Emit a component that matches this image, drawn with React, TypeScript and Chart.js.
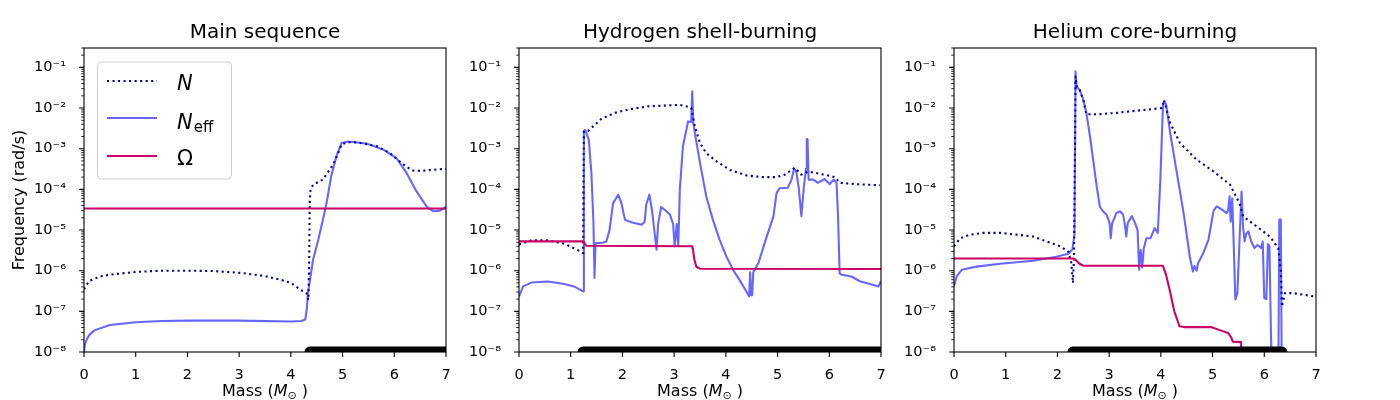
import React, { useEffect, useRef } from "react";
import { Chart, registerables } from "chart.js";

Chart.register(...registerables);

const FONT = "'DejaVu Sans', 'Liberation Sans', sans-serif";

// ---------- axis ticks ----------
const X_TICK_VALUES = [0, 1, 2, 3, 4, 5, 6, 7];
const X_TICK_LABELS = ["0", "1", "2", "3", "4", "5", "6", "7"];
const Y_TICK_VALUES = [1e-8, 1e-7, 1e-6, 1e-5, 1e-4, 1e-3, 1e-2, 1e-1];
const Y_TICK_LABELS = ["10⁻⁸", "10⁻⁷", "10⁻⁶", "10⁻⁵", "10⁻⁴", "10⁻³", "10⁻²", "10⁻¹"];
const Y_MIN = 1e-8;
const Y_MAX = 0.3;
const X_MIN = 0;
const X_MAX = 7;

const PANEL_TITLES = ["Main sequence", "Hydrogen shell-burning", "Helium core-burning"];
const Y_AXIS_TITLE = "Frequency (rad/s)";
const SERIES_NAMES = ["N", "N", "Ω"];

// ---------- Main sequence ----------
const msNx = [0, 0.1, 0.3, 0.5, 1.0, 1.5, 2.0, 2.5, 3.0, 3.5, 3.8, 4.0, 4.2, 4.3, 4.34, 4.355, 4.365, 4.38, 4.43, 4.62, 4.82, 4.9, 4.98, 5.1, 5.27, 5.65, 5.91, 6.1, 6.25, 6.36, 6.5, 6.7, 7.0];
const msNy = [3.5e-7, 5.6e-7, 7.1e-7, 8.0e-7, 9.3e-7, 1.0e-6, 1.0e-6, 9.8e-7, 8.9e-7, 7.4e-7, 6.0e-7, 5.0e-7, 3.3e-7, 2.8e-7, 1.9e-7, 2.0e-6, 5.0e-5, 1.0e-4, 1.3e-4, 1.74e-4, 4.1e-4, 7.0e-4, 1.26e-3, 1.45e-3, 1.43e-3, 1.17e-3, 7.9e-4, 4.9e-4, 3.5e-4, 2.9e-4, 2.85e-4, 3.0e-4, 3.2e-4];
const msEx = [0, 0.02, 0.05, 0.1, 0.2, 0.5, 1.0, 1.5, 2.0, 3.0, 4.0, 4.2, 4.28, 4.31, 4.33, 4.43, 4.53, 4.62, 4.69, 4.78, 4.88, 4.98, 5.1, 5.46, 5.79, 6.04, 6.24, 6.43, 6.63, 6.75, 6.88, 7.0];
const msEy = [1.0e-8, 1.6e-8, 2.0e-8, 2.6e-8, 3.4e-8, 4.6e-8, 5.4e-8, 5.8e-8, 5.9e-8, 5.9e-8, 5.6e-8, 5.8e-8, 6.3e-8, 1.2e-7, 2.8e-7, 1.86e-6, 5.75e-6, 1.78e-5, 4.6e-5, 2.1e-4, 6.5e-4, 1.38e-3, 1.5e-3, 1.35e-3, 9.5e-4, 5.9e-4, 2.5e-4, 8.9e-5, 3.7e-5, 2.9e-5, 3.0e-5, 3.7e-5];
const msOx = [0, 7];
const msOy = [3.4e-5, 3.4e-5];
const msBar = [4.37, 7];

// ---------- Hydrogen shell-burning ----------
const hsNx = [0, 0.24, 0.56, 0.88, 1.14, 1.24, 1.255, 1.34, 1.59, 1.85, 2.17, 2.5, 2.82, 3.11, 3.33, 3.4, 3.5, 3.62, 3.82, 4.08, 4.4, 4.72, 4.98, 5.14, 5.33, 5.46, 5.59, 5.98, 6.11, 6.2, 6.49, 6.98];
const hsNy = [4.4e-6, 5.6e-6, 5.6e-6, 4.6e-6, 3.2e-6, 2.7e-6, 2.7e-3, 2.75e-3, 5.4e-3, 7.6e-3, 9.5e-3, 1.1e-2, 1.15e-2, 1.2e-2, 1.02e-2, 3.5e-3, 1.38e-3, 7.8e-4, 4.9e-4, 3.0e-4, 2.2e-4, 2.0e-4, 2.0e-4, 2.3e-4, 3.4e-4, 2.3e-4, 2.75e-4, 2.2e-4, 2.0e-4, 1.45e-4, 1.35e-4, 1.26e-4];
const hsEx = [0, 0.08, 0.24, 0.56, 0.88, 1.08, 1.24, 1.255, 1.28, 1.35, 1.4, 1.44, 1.46, 1.48, 1.59, 1.69, 1.75, 1.82, 1.92, 1.98, 2.05, 2.17, 2.37, 2.43, 2.46, 2.52, 2.57, 2.66, 2.69, 2.75, 2.85, 2.92, 2.98, 3.01, 3.05, 3.08, 3.11, 3.17, 3.27, 3.33, 3.35, 3.37, 3.4, 3.5, 3.62, 3.75, 3.88, 4.01, 4.14, 4.3, 4.45, 4.47, 4.49, 4.51, 4.53, 4.63, 4.79, 4.92, 4.98, 5.04, 5.2, 5.27, 5.32, 5.36, 5.41, 5.46, 5.51, 5.55, 5.565, 5.58, 5.6, 5.69, 5.78, 5.91, 5.98, 6.01, 6.08, 6.14, 6.17, 6.2, 6.24, 6.43, 6.59, 6.82, 6.95, 7.0];
const hsEy = [2.3e-7, 4.1e-7, 5.1e-7, 5.4e-7, 4.7e-7, 4.0e-7, 3.1e-7, 2.6e-3, 2.9e-3, 1.66e-3, 2.5e-4, 1.5e-5, 6.6e-7, 4.8e-6, 4.8e-6, 5.2e-6, 1.0e-5, 4.6e-5, 7.4e-5, 4.6e-5, 1.78e-5, 1.55e-5, 1.35e-5, 1.6e-5, 4.2e-5, 7.4e-5, 3.2e-5, 3.3e-6, 1.4e-5, 3.7e-5, 2.9e-5, 2.4e-5, 1.4e-5, 4.0e-6, 1.4e-5, 4.0e-6, 9.8e-5, 1.15e-3, 4.7e-3, 4.5e-3, 2.6e-2, 4.5e-3, 2.45e-3, 4.5e-4, 6.8e-5, 1.78e-5, 5.75e-6, 2.24e-6, 1.05e-6, 5.0e-7, 2.35e-7, 9.1e-7, 2.5e-7, 2.5e-7, 9.1e-7, 1.55e-6, 6.9e-6, 2.16e-5, 8.1e-5, 1.07e-4, 1.1e-4, 1.74e-4, 3.2e-4, 2.8e-4, 1.07e-4, 2.2e-5, 1.2e-4, 3.2e-4, 1.74e-3, 1.7e-3, 1.74e-4, 1.74e-4, 1.45e-4, 1.8e-4, 1.45e-4, 1.35e-4, 1.74e-4, 1.45e-4, 2.1e-5, 8.7e-7, 7.9e-7, 7.2e-7, 5.5e-7, 4.6e-7, 4.1e-7, 5.5e-7];
const hsOx = [0, 1.25, 1.3, 3.35, 3.37, 3.39, 3.43, 3.5, 7];
const hsOy = [5.25e-6, 5.25e-6, 4.1e-6, 4.0e-6, 3.0e-6, 1.9e-6, 1.25e-6, 1.12e-6, 1.1e-6];
const hsBar = [1.24, 7];

// ---------- Helium core-burning ----------
const hcNx = [0, 0.12, 0.31, 0.57, 0.89, 1.21, 1.53, 1.79, 2.05, 2.21, 2.27, 2.3, 2.32, 2.34, 2.35, 2.37, 2.43, 2.5, 2.56, 2.82, 3.14, 3.4, 3.73, 4.02, 4.06, 4.18, 4.37, 4.69, 5.02, 5.34, 5.42, 5.52, 5.59, 5.63, 5.85, 6.11, 6.27, 6.32, 6.34, 6.4, 6.56, 6.95, 7.0];
const hcNy = [4.0e-6, 6.3e-6, 7.7e-6, 8.5e-6, 8.5e-6, 7.7e-6, 6.9e-6, 5.25e-6, 4.0e-6, 2.95e-6, 1.55e-6, 5.0e-7, 2.0e-6, 1.0e-3, 6.0e-2, 3.4e-2, 2.8e-2, 1.6e-2, 7.0e-3, 7.1e-3, 7.6e-3, 8.3e-3, 9.1e-3, 1.0e-2, 1.6e-2, 4.3e-3, 1.38e-3, 5.4e-4, 2.75e-4, 1.3e-4, 8.1e-5, 4.6e-5, 2.16e-5, 2.0e-5, 1.23e-5, 6.9e-6, 3.6e-6, 1.0e-6, 1.3e-7, 2.8e-7, 2.8e-7, 2.35e-7, 2.3e-7];
const hcEx = [0, 0.05, 0.15, 0.44, 0.89, 1.53, 1.98, 2.21, 2.29, 2.33, 2.35, 2.37, 2.43, 2.5, 2.56, 2.63, 2.69, 2.76, 2.82, 2.88, 2.95, 3.01, 3.03, 3.06, 3.14, 3.21, 3.27, 3.31, 3.33, 3.36, 3.44, 3.5, 3.55, 3.58, 3.61, 3.64, 3.67, 3.72, 3.8, 3.88, 3.94, 3.99, 4.04, 4.06, 4.1, 4.18, 4.31, 4.44, 4.56, 4.62, 4.65, 4.69, 4.72, 4.82, 4.92, 5.02, 5.08, 5.18, 5.27, 5.3, 5.33, 5.35, 5.38, 5.41, 5.44, 5.48, 5.52, 5.56, 5.59, 5.62, 5.65, 5.69, 5.75, 5.81, 5.87, 5.94, 5.97, 6.0, 6.04, 6.07, 6.1, 6.13, 6.16, 6.27, 6.29, 6.32, 6.34, 7.0];
const hcEy = [4.1e-7, 7.2e-7, 1.05e-6, 1.26e-6, 1.48e-6, 1.76e-6, 2.2e-6, 2.6e-6, 3.3e-6, 8.0e-6, 8.0e-2, 3.4e-2, 2.8e-2, 1.6e-2, 7.6e-3, 2.0e-3, 5.4e-4, 1.17e-4, 3.8e-5, 2.9e-5, 2.4e-5, 1.48e-5, 6.3e-6, 1.48e-5, 2.6e-5, 2.9e-5, 2.4e-5, 1.2e-5, 6.9e-6, 1.5e-5, 2.2e-5, 1.5e-5, 1.0e-5, 1.05e-6, 3.2e-6, 1.2e-6, 3.5e-6, 6.3e-6, 6.3e-6, 1.12e-5, 8.5e-6, 1.7e-4, 1.1e-2, 1.4e-2, 1.26e-2, 2.45e-3, 2.5e-4, 2.6e-5, 2.2e-6, 9.5e-7, 1.3e-6, 1.0e-6, 1.55e-6, 2.7e-6, 5.75e-6, 3.0e-5, 3.8e-5, 3.2e-5, 2.6e-5, 3.0e-5, 6.8e-5, 1.6e-5, 6.0e-5, 4.0e-6, 1.95e-7, 2.8e-7, 5.0e-6, 8.9e-5, 1.2e-5, 5.25e-6, 8.0e-6, 9.3e-6, 5.2e-6, 3.6e-6, 4.3e-6, 3.6e-6, 5.2e-6, 2.1e-7, 2.0e-7, 4.5e-6, 4.0e-6, 2.4e-8, 1.0e-9, 1.0e-9, 1.8e-5, 1.8e-5, 1.0e-9, 1.0e-9];
const hcOx = [0, 2.3, 2.34, 2.42, 2.5, 4.04, 4.1, 4.17, 4.26, 4.36, 4.45, 4.97, 5.1, 5.3, 5.36, 5.39, 5.55, 5.57, 5.6, 7.0];
const hcOy = [2.0e-6, 2.0e-6, 1.9e-6, 1.5e-6, 1.32e-6, 1.32e-6, 8.0e-7, 3.4e-7, 1.0e-7, 4.3e-8, 4.1e-8, 4.1e-8, 3.6e-8, 2.95e-8, 2.3e-8, 1.8e-8, 1.75e-8, 5e-9, 1e-9, 1e-9];
const hcBar = [2.3, 6.34];

// ---------- styles ----------
const COLOR_N = "#00008b";
const COLOR_NEFF = "rgba(0,0,255,0.6)";
const COLOR_OMEGA = "#cc0066";
const LW = 2.08;

const CANVAS_W = 466;
const CANVAS_H = 400;

type PanelDef = {
  title: string;
  nx: number[]; ny: number[];
  ex: number[]; ey: number[];
  ox: number[]; oy: number[];
  bar: number[];
  left: number;
  legend: boolean;
  yTitle: boolean;
};

const PANELS: PanelDef[] = [
  { title: PANEL_TITLES[0], nx: msNx, ny: msNy, ex: msEx, ey: msEy, ox: msOx, oy: msOy, bar: msBar, left: 0, legend: true, yTitle: true },
  { title: PANEL_TITLES[1], nx: hsNx, ny: hsNy, ex: hsEx, ey: hsEy, ox: hsOx, oy: hsOy, bar: hsBar, left: 435, legend: false, yTitle: false },
  { title: PANEL_TITLES[2], nx: hcNx, ny: hcNy, ex: hcEx, ey: hcEy, ox: hcOx, oy: hcOy, bar: hcBar, left: 870, legend: false, yTitle: false },
];

function pts(xs: number[], ys: number[]) {
  return xs.map((x, i) => ({ x, y: ys[i] }));
}

function drawRich(ctx: CanvasRenderingContext2D, parts: { t: string; f: string; dy: number }[], cx: number, base: number) {
  let total = 0;
  const widths = parts.map((p) => {
    ctx.font = p.f;
    const w = ctx.measureText(p.t).width;
    total += w;
    return w;
  });
  let x = cx - total / 2;
  ctx.textAlign = "left";
  ctx.textBaseline = "alphabetic";
  parts.forEach((p, i) => {
    ctx.font = p.f;
    ctx.fillText(p.t, x, base + p.dy);
    x += widths[i];
  });
}

const framePlugin = {
  id: "mplFrame",
  afterDraw(chart: any, _args: any, opts: any) {
    const { ctx, chartArea: a, scales } = chart;
    ctx.save();
    ctx.fillStyle = "#000";
    ctx.strokeStyle = "#000";
    // ticks
    ctx.lineWidth = 1.1;
    ctx.beginPath();
    X_TICK_VALUES.forEach((v) => {
      const px = scales.x.getPixelForValue(v);
      ctx.moveTo(px, a.bottom);
      ctx.lineTo(px, a.bottom + 4.9);
    });
    Y_TICK_VALUES.forEach((v) => {
      const py = scales.y.getPixelForValue(v);
      ctx.moveTo(a.left, py);
      ctx.lineTo(a.left - 4.9, py);
    });
    ctx.stroke();
    ctx.lineWidth = 0.85;
    ctx.beginPath();
    Y_TICK_VALUES.forEach((v) => {
      for (let m = 2; m <= 9; m++) {
        const val = v * m;
        if (val > Y_MAX * 1.0001) continue;
        const py = scales.y.getPixelForValue(val);
        ctx.moveTo(a.left, py);
        ctx.lineTo(a.left - 2.8, py);
      }
    });
    ctx.stroke();
    // frame
    ctx.lineWidth = 1.1;
    ctx.strokeRect(a.left, a.top, a.right - a.left, a.bottom - a.top);

    // x label
    drawRich(
      ctx,
      [
        { t: "Mass (", f: `16px ${FONT}`, dy: 0 },
        { t: "M", f: `italic 16px ${FONT}`, dy: 0 },
        { t: "⊙", f: `11px ${FONT}`, dy: 3 },
        { t: " )", f: `16px ${FONT}`, dy: 0 },
      ],
      (a.left + a.right) / 2,
      396
    );

    // legend
    if (opts && opts.legend) {
      const bx = 97.5, by = 62, bw = 134, bh = 117, r = 4;
      ctx.beginPath();
      ctx.moveTo(bx + r, by);
      ctx.lineTo(bx + bw - r, by);
      ctx.arcTo(bx + bw, by, bx + bw, by + r, r);
      ctx.lineTo(bx + bw, by + bh - r);
      ctx.arcTo(bx + bw, by + bh, bx + bw - r, by + bh, r);
      ctx.lineTo(bx + r, by + bh);
      ctx.arcTo(bx, by + bh, bx, by + bh - r, r);
      ctx.lineTo(bx, by + r);
      ctx.arcTo(bx, by, bx + r, by, r);
      ctx.closePath();
      ctx.fillStyle = "rgba(255,255,255,0.8)";
      ctx.fill();
      ctx.strokeStyle = "#cccccc";
      ctx.lineWidth = 1;
      ctx.stroke();

      const rows = [81, 118, 156];
      const colors = [COLOR_N, COLOR_NEFF, COLOR_OMEGA];
      rows.forEach((ry, i) => {
        ctx.beginPath();
        ctx.strokeStyle = colors[i];
        ctx.lineWidth = LW;
        ctx.setLineDash(i === 0 ? [2.08, 3.44] : []);
        ctx.moveTo(107, ry);
        ctx.lineTo(157, ry);
        ctx.stroke();
      });
      ctx.setLineDash([]);
      ctx.fillStyle = "#000";
      ctx.textAlign = "left";
      ctx.textBaseline = "alphabetic";
      ctx.font = `italic 21px ${FONT}`;
      ctx.fillText(SERIES_NAMES[0], 177, 89.5);
      ctx.fillText(SERIES_NAMES[1], 177, 128.5);
      const wN = ctx.measureText(SERIES_NAMES[1]).width;
      ctx.font = `15px ${FONT}`;
      ctx.fillText("eff", 177 + wN + 1, 131.5);
      ctx.font = `21px ${FONT}`;
      ctx.fillText(SERIES_NAMES[2], 177, 164.5);
    }
    ctx.restore();
  },
};

function PanelChart({ p }: { p: PanelDef }) {
  const ref = useRef<HTMLCanvasElement | null>(null);
  useEffect(() => {
    if (!ref.current) return;
    const chart = new Chart(ref.current, {
      type: "line",
      data: {
        datasets: [
          {
            label: "bar",
            data: pts(p.bar, [Y_MIN, Y_MIN]),
            borderColor: "#000",
            borderWidth: 11,
            borderCapStyle: "round",
            pointRadius: 0,
            clip: 0,
            order: 0,
          },
          {
            label: "Omega",
            data: pts(p.ox, p.oy),
            borderColor: COLOR_OMEGA,
            borderWidth: LW,
            borderJoinStyle: "round",
            pointRadius: 0,
            clip: 0,
            order: 1,
          },
          {
            label: "Neff",
            data: pts(p.ex, p.ey),
            borderColor: COLOR_NEFF,
            borderWidth: LW,
            borderJoinStyle: "round",
            pointRadius: 0,
            clip: 0,
            order: 2,
          },
          {
            label: "N",
            data: pts(p.nx, p.ny),
            borderColor: COLOR_N,
            borderWidth: LW,
            borderDash: [2.08, 3.44],
            borderJoinStyle: "round",
            pointRadius: 0,
            clip: 0,
            order: 3,
          },
        ] as any,
      },
      options: {
        animation: false,
        responsive: false,
        devicePixelRatio: 1,
        events: [],
        layout: { padding: { left: 0, right: 20, top: 0, bottom: 0 } },
        elements: { point: { radius: 0 }, line: { tension: 0 } },
        plugins: {
          legend: { display: false },
          tooltip: { enabled: false },
          title: {
            display: true,
            text: p.title,
            fullSize: false,
            color: "#000",
            font: { family: FONT, size: 20, weight: "normal", lineHeight: 1.2 },
            padding: { top: 21, bottom: 3 },
          },
          mplFrame: { legend: p.legend },
        } as any,
        scales: {
          x: {
            type: "linear",
            min: X_MIN,
            max: X_MAX,
            grid: { display: false },
            border: { display: false },
            ticks: {
              stepSize: 1,
              padding: 7,
              autoSkip: false,
              maxRotation: 0,
              color: "#000",
              font: { family: FONT, size: 14.5 },
              callback: (v: any) => {
                const i = X_TICK_VALUES.indexOf(Number(v));
                return i >= 0 ? X_TICK_LABELS[i] : "";
              },
            },
            afterFit: (s: any) => {
              s.height = 48;
            },
          },
          y: {
            type: "logarithmic",
            min: Y_MIN,
            max: Y_MAX,
            grid: { display: false },
            border: { display: false },
            ticks: {
              padding: 10,
              autoSkip: false,
              color: "#000",
              font: { family: FONT, size: 14.5 },
              callback: (v: any) => {
                const lv = Math.log10(Number(v));
                const i = Y_TICK_VALUES.findIndex((t) => Math.abs(Math.log10(t) - lv) < 1e-6);
                return i >= 0 ? Y_TICK_LABELS[i] : "";
              },
            },
            title: {
              display: p.yTitle,
              text: Y_AXIS_TITLE,
              color: "#000",
              font: { family: FONT, size: 16 },
              padding: { top: 10, bottom: 0 },
            },
            afterFit: (s: any) => {
              s.width = 84;
            },
          },
        } as any,
      },
      plugins: [framePlugin as any],
    });
    return () => chart.destroy();
  }, [p]);
  return (
    <canvas
      ref={ref}
      width={CANVAS_W}
      height={CANVAS_H}
      style={{ position: "absolute", left: p.left, top: 0, width: CANVAS_W, height: CANVAS_H }}
    />
  );
}

export default function App() {
  return (
    <div style={{ position: "fixed", left: 0, top: 0, width: 1400, height: 400, background: "#fff", overflow: "hidden" }}>
      {PANELS.map((p, i) => (
        <PanelChart key={i} p={p} />
      ))}
    </div>
  );
}
